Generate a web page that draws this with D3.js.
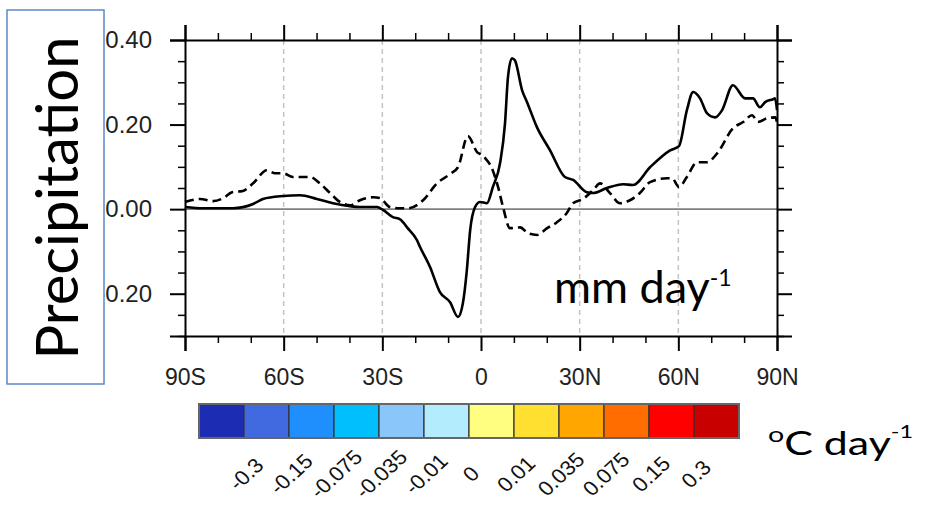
<!DOCTYPE html>
<html>
<head>
<meta charset="utf-8">
<script src="https://cdn.jsdelivr.net/npm/d3@7"></script>
<style>
  body { margin: 0; background: #fff; }
  .axis text { font-family: "Liberation Sans", Arial, sans-serif; fill: #222; }
  .axis path, .axis line { stroke: #000; stroke-width: 2; }
  .minor line { stroke-width: 1.5; }
  .label { font-family: Lato, "Open Sans", sans-serif; fill: #000; }
</style>
</head>
<body>
<div id="chart"></div>
<script>
// zonal mean precipitation response (mm/day)
var solidLat = [-90, -84.5, -75.4, -69.3, -66.3, -60.2, -55, -49.9, -45, -39.8, -36.8, -31.6, -29.8, -26.8, -24.6, -22.5, -19.5, -18.5, -15.5, -12.5, -9.4, -7, -5.5, -4.3, -3.3, -1.8, -0.3, 1.8, 3.6, 5.8, 7.3, 8.2, 9.4, 10.3, 12.5, 14, 17, 21, 25.5, 28, 32.2, 34.1, 38.3, 43.2, 46.2, 51.4, 57.5, 60.2, 62.6, 64.5, 66.6, 68.7, 71.2, 73.3, 76.6, 80.3, 82.7, 84.8, 86.4, 88.8, 89.4, 90];
var solidVal = [0.005, 0.002, 0.002, 0.012, 0.024, 0.031, 0.033, 0.024, 0.014, 0.007, 0.005, 0.005, -0.002, -0.019, -0.024, -0.043, -0.073, -0.09, -0.137, -0.196, -0.22, -0.255, -0.222, -0.144, -0.05, 0.005, 0.017, 0.014, 0.052, 0.109, 0.203, 0.312, 0.357, 0.352, 0.281, 0.253, 0.194, 0.139, 0.076, 0.069, 0.04, 0.038, 0.05, 0.059, 0.057, 0.099, 0.139, 0.149, 0.234, 0.277, 0.262, 0.227, 0.217, 0.234, 0.293, 0.262, 0.262, 0.241, 0.253, 0.26, 0.262, 0.234];

var dashLat = [-90, -85.4, -81.5, -78.4, -75.7, -72.4, -69.3, -65.1, -62.6, -60.2, -57.2, -52, -49, -45.9, -42.9, -39.8, -36.8, -32.8, -30.7, -27.7, -24.6, -22.2, -17.6, -13.4, -9.4, -7, -4, -1.2, 0.3, 1.2, 3.3, 5.2, 6.7, 8.8, 11.9, 14.3, 17, 20.1, 23.1, 26.1, 28, 31, 34.1, 36.2, 39.2, 42.3, 45.3, 48.3, 51.4, 56.6, 58.1, 60.2, 62.6, 65.7, 68.7, 71.8, 76.6, 79.7, 82.4, 84.2, 87, 89.5, 90];
var dashVal = [0.017, 0.024, 0.019, 0.026, 0.04, 0.043, 0.061, 0.092, 0.085, 0.085, 0.076, 0.076, 0.061, 0.038, 0.017, 0.009, 0.021, 0.028, 0.026, 0.005, 0.002, 0.002, 0.021, 0.061, 0.083, 0.099, 0.173, 0.135, 0.128, 0.121, 0.097, 0.052, 0.005, -0.045, -0.043, -0.057, -0.061, -0.045, -0.031, -0.009, 0.014, 0.024, 0.045, 0.061, 0.038, 0.014, 0.021, 0.038, 0.064, 0.073, 0.073, 0.052, 0.076, 0.111, 0.111, 0.132, 0.191, 0.206, 0.222, 0.206, 0.215, 0.217, 0.205];

var yTicks = [0.4, 0.2, 0, -0.2];
var yTickLabels = ["0.40", "0.20", "0.00", "-0.20"];
var xTicks = [-90, -60, -30, 0, 30, 60, 90];
var xTickLabels = ["90S", "60S", "30S", "0", "30N", "60N", "90N"];
var gridLat = [-60, -30, 0, 30, 60];

// colour bar (degC/day)
var cbColors = ["#1c2db4", "#4169e0", "#1e8ffc", "#00bffc", "#8ac6fa", "#b2ecfd",
                "#fffe80", "#ffe031", "#ffa600", "#ff6c00", "#fe0000", "#c80000"];
var cbLabels = ["-0.3", "-0.15", "-0.075", "-0.035", "-0.01", "0", "0.01", "0.035", "0.075", "0.15", "0.3"];

var W = 925, H = 505;
var svg = d3.select("#chart").append("svg")
    .attr("width", W).attr("height", H);

var x = d3.scaleLinear().domain([-90, 90]).range([185, 777]);
var y = d3.scaleLinear().domain([-0.3, 0.4]).range([336, 40]);

// dashed grid
svg.append("g").selectAll("line").data(gridLat).enter().append("line")
    .attr("x1", d => x(d)).attr("x2", d => x(d))
    .attr("y1", y(0.4)).attr("y2", y(-0.3))
    .attr("stroke", "#c4c4c4").attr("stroke-width", 1.5)
    .attr("stroke-dasharray", "5,4");

// zero line
svg.append("line")
    .attr("x1", x(-90)).attr("x2", x(90))
    .attr("y1", y(0)).attr("y2", y(0))
    .attr("stroke", "#808080").attr("stroke-width", 1.6);

var line = d3.line()
    .x(d => x(d[0])).y(d => y(d[1]))
    .curve(d3.curveMonotoneX);

svg.append("path")
    .datum(d3.zip(solidLat, solidVal))
    .attr("d", line)
    .attr("fill", "none").attr("stroke", "#000").attr("stroke-width", 2.6);

svg.append("path")
    .datum(d3.zip(dashLat, dashVal))
    .attr("d", line)
    .attr("fill", "none").attr("stroke", "#000").attr("stroke-width", 2.6)
    .attr("stroke-dasharray", "9,5");

// minor ticks
var xMinor = d3.range(-90, 91, 10).filter(d => d % 30 != 0);
var yMinor = d3.range(-6, 9).map(d => d * 0.05).filter(d => Math.round(d * 100) % 20 != 0);

function minor(axis, vals, tr) {
  svg.append("g").attr("class", "axis minor")
      .attr("transform", tr)
      .call(axis.tickValues(vals).tickSize(7).tickSizeOuter(0).tickFormat(""))
      .call(g => g.select(".domain").remove());
}
minor(d3.axisBottom(x), xMinor, "translate(0," + y(-0.3) + ")");
minor(d3.axisTop(x), xMinor, "translate(0," + y(0.4) + ")");
minor(d3.axisLeft(y), yMinor, "translate(" + x(-90) + ",0)");
minor(d3.axisRight(y), yMinor, "translate(" + x(90) + ",0)");

// major ticks + frame
svg.append("g").attr("class", "axis")
    .attr("transform", "translate(0," + y(-0.3) + ")")
    .call(d3.axisBottom(x).tickValues(xTicks).tickSize(15).tickSizeOuter(15)
      .tickPadding(18).tickFormat((d, i) => xTickLabels[i]))
    .selectAll("text").style("font-size", "23px");

svg.append("g").attr("class", "axis")
    .attr("transform", "translate(0," + y(0.4) + ")")
    .call(d3.axisTop(x).tickValues(xTicks).tickSize(15).tickSizeOuter(15).tickFormat(""));

svg.append("g").attr("class", "axis")
    .attr("transform", "translate(" + x(-90) + ",0)")
    .call(d3.axisLeft(y).tickValues(yTicks).tickSize(15).tickSizeOuter(15)
      .tickPadding(18).tickFormat((d, i) => yTickLabels[i]))
    .selectAll("text").style("font-size", "24px");

svg.append("g").attr("class", "axis")
    .attr("transform", "translate(" + x(90) + ",0)")
    .call(d3.axisRight(y).tickValues(yTicks).tickSize(15).tickSizeOuter(15).tickFormat(""));

// y title box (sits over the minus sign of the lowest label, as in the figure)
svg.append("rect")
    .attr("x", 7).attr("y", 10).attr("width", 97).attr("height", 374)
    .attr("fill", "#fff").attr("stroke", "#5b89cc").attr("stroke-width", 1.5);

svg.append("text").attr("class", "label")
    .attr("transform", "translate(78,198) rotate(-90)")
    .attr("text-anchor", "middle")
    .style("font-size", "58px")
    .text("Precipitation");

// units in the plot
var mm = svg.append("text").attr("class", "label")
    .attr("x", 554).attr("y", 303)
    .style("font-size", "45px");
mm.append("tspan").text("mm day");
mm.append("tspan").attr("dy", -17).style("font-size", "23px").text("-1");

// colour bar
var cb = d3.scaleBand().domain(d3.range(cbColors.length)).range([199, 739]);
svg.append("g").selectAll("rect").data(cbColors).enter().append("rect")
    .attr("x", (d, i) => cb(i)).attr("y", 404)
    .attr("width", cb.bandwidth()).attr("height", 34)
    .attr("fill", d => d).attr("stroke", "#333").attr("stroke-width", 1.2);
svg.append("rect")
    .attr("x", 199).attr("y", 404).attr("width", 540).attr("height", 34)
    .attr("fill", "none").attr("stroke", "#666").attr("stroke-width", 2);

svg.append("g").selectAll("text").data(cbLabels).enter().append("text")
    .attr("transform", (d, i) => "translate(" + (cb(i + 1) + 2) + ",474) scale(1.08,1) rotate(-45)")
    .attr("text-anchor", "middle").attr("dy", "0.35em")
    .style("font-family", "'Liberation Sans', Arial, sans-serif")
    .style("font-size", "20.5px").attr("fill", "#111")
    .text(d => d);

// colour bar units
var cu = svg.append("g").attr("transform", "translate(768,455) scale(1.3,1)")
  .append("text").attr("class", "label").style("font-size", "33px");
cu.append("tspan").attr("dy", -13).style("font-size", "22px").text("o");
cu.append("tspan").attr("dy", 13).text("C day");
cu.append("tspan").attr("dy", -17).style("font-size", "18px").text("-1");
</script>
</body>
</html>
